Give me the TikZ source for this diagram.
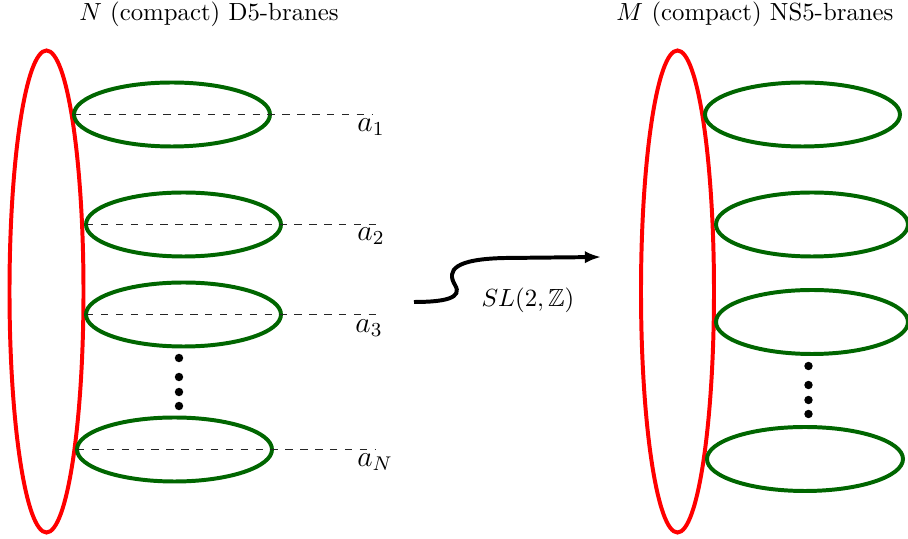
\documentclass[tikz,border=0pt]{standalone}
\usepackage{amssymb}
\usetikzlibrary{arrows.meta}
\begin{document}
\begin{tikzpicture}[x=0.4032pt,y=-0.4032pt,
  redbrane/.style={draw=red,line width=1.6pt},
  greenbrane/.style={draw=green!40!black,line width=1.6pt},
  levelline/.style={dashed,line width=0.45pt,black!85},
  dotmark/.style={fill=black,circle,inner sep=0pt,minimum size=3.4pt},
  lbl/.style={inner sep=1pt},
  albl/.style={inner sep=1pt,font=\large}]
\useasboundingbox (0,0) rectangle (908,539);
% titles
\node[lbl] (tl) at (209,14) {$N$ (compact) D5-branes};
\node[lbl] (tr) at (755,14) {$M$ (compact) NS5-branes};
% left side
\draw[redbrane] (46.5,291.5) ellipse (37 and 241);
\draw[greenbrane] (172,114.5) ellipse (98 and 32);
\draw[greenbrane] (183.5,224.5) ellipse (97.5 and 32);
\draw[greenbrane] (183.5,314.5) ellipse (97.5 and 32);
\draw[greenbrane] (174.5,449.5) ellipse (97.5 and 32);
\coordinate (l1) at (74,114.5);
\coordinate (l2) at (86,224.5);
\coordinate (l3) at (86,314.5);
\coordinate (l4) at (77,449.5);
\coordinate (r1) at (372,114.5);
\coordinate (r2) at (382,224.5);
\coordinate (r3) at (382,314.5);
\coordinate (r4) at (376,449.5);
\draw[levelline] (l1) -- (r1);
\draw[levelline] (l2) -- (r2);
\draw[levelline] (l3) -- (r3);
\draw[levelline] (l4) -- (r4);
\node[albl] (a1) at (371,127) {$a_1$};
\node[albl] (a2) at (371,236) {$a_2$};
\node[albl] (a3) at (369,328) {$a_3$};
\node[albl] (aN) at (375,462) {$a_N$};
\foreach \y [count=\i] in {358,377,392,406} \node[dotmark] (ld\i) at (179,\y) {};
% arrow
\coordinate (as) at (414,302);
\coordinate (ae) at (601,257);
\draw[line width=1.6pt,-{Latex[length=6.5pt,width=5pt]}] (as) .. controls (445,302) and (463,298) .. (455,285) .. controls (446,270) and (455,259) .. (505,258) -- (ae);
\node[lbl] (sl) at (528,300) {$SL(2,\mathbb{Z})$};
% right side
\draw[redbrane] (677.5,291.5) ellipse (36.5 and 241);
\draw[greenbrane] (802.5,114.5) ellipse (97.5 and 32);
\draw[greenbrane] (812,224.5) ellipse (96 and 32);
\draw[greenbrane] (812,322) ellipse (96 and 32);
\draw[greenbrane] (805,459) ellipse (98 and 32);
\foreach \y [count=\i] in {366,385,400,414} \node[dotmark] (rd\i) at (808.5,\y) {};
\end{tikzpicture}
\end{document}
